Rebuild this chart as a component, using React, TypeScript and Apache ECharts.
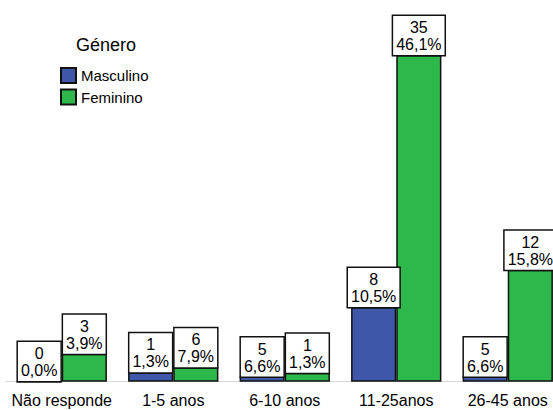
import React, { useEffect, useRef } from "react";
import * as echarts from "echarts";

const categories = ["Não responde", "1-5 anos", "6-10 anos", "11-25anos", "26-45 anos"];
// bar heights as drawn in the reference picture
const masculinoBar = [0, 1, 0.55, 8, 0.55];
const femininoBar = [3, 1.55, 0.95, 35, 12];
// counts and percentages printed in the label boxes
const masculinoCount = [0, 1, 5, 8, 5];
const femininoCount = [3, 6, 1, 35, 12];
const masculinoPct = ["0,0%", "1,3%", "6,6%", "10,5%", "6,6%"];
const femininoPct = ["3,9%", "7,9%", "1,3%", "46,1%", "15,8%"];

const FONT = "Liberation Sans, Arial, sans-serif";

export default function App() {
  const ref = useRef<HTMLDivElement>(null);
  useEffect(() => {
    if (!ref.current) return;
    const chart = echarts.init(ref.current, null, { renderer: "svg" });
    const labelFor = (counts: number[], pcts: string[]) => ({
      show: true,
      position: "top",
      distance: 0,
      formatter: (p: any) => `${counts[p.dataIndex]}\n${pcts[p.dataIndex]}`,
      color: "#000",
      fontFamily: FONT,
      fontSize: 16,
      lineHeight: 17,
      backgroundColor: "#fff",
      borderColor: "#111",
      borderWidth: 1.5,
      padding: [3, 3, 2, 3],
      align: "center",
    });
    chart.setOption({
      animation: false,
      textStyle: { fontFamily: FONT },
      title: {
        text: "Género",
        left: 71,
        top: 31,
        textStyle: { fontSize: 18, fontWeight: "normal", color: "#000", fontFamily: FONT },
      },
      legend: {
        orient: "vertical",
        left: 60,
        top: 67,
        padding: 0,
        itemWidth: 15,
        itemHeight: 15,
        itemGap: 4.5,
        icon: "rect",
        textStyle: { fontSize: 15, color: "#000", fontFamily: FONT },
        data: ["Masculino", "Feminino"],
      },
      grid: {
        left: 6,
        right: -10.5,
        top: 8.4,
        bottom: 28.3,
        containLabel: false,
        outerBoundsMode: "none",
      },
      xAxis: {
        type: "category",
        data: categories,
        axisLine: { lineStyle: { color: "#d8d8d8", width: 1 } },
        axisTick: { alignWithLabel: true, interval: 0, length: 8, lineStyle: { color: "#000", width: 1.5 } },
        axisLabel: { interval: 0, fontSize: 16, color: "#000", margin: 11, fontFamily: FONT },
      },
      yAxis: {
        type: "value",
        min: 0,
        max: 40,
        show: false,
        splitLine: { show: false },
      },
      series: [
        {
          name: "Masculino",
          type: "bar",
          data: masculinoBar,
          barGap: "0%",
          barCategoryGap: "19%",
          itemStyle: { color: "#3E57A9", borderColor: "#111", borderWidth: 1.5 },
          label: labelFor(masculinoCount, masculinoPct),
        },
        {
          name: "Feminino",
          type: "bar",
          data: femininoBar,
          barGap: "0%",
          barCategoryGap: "19%",
          itemStyle: { color: "#2EB84B", borderColor: "#111", borderWidth: 1.5 },
          label: labelFor(femininoCount, femininoPct),
        },
      ],
    });
    return () => chart.dispose();
  }, []);
  return <div ref={ref} style={{ width: 553, height: 410, position: "absolute", left: 0, top: 0 }} />;
}
